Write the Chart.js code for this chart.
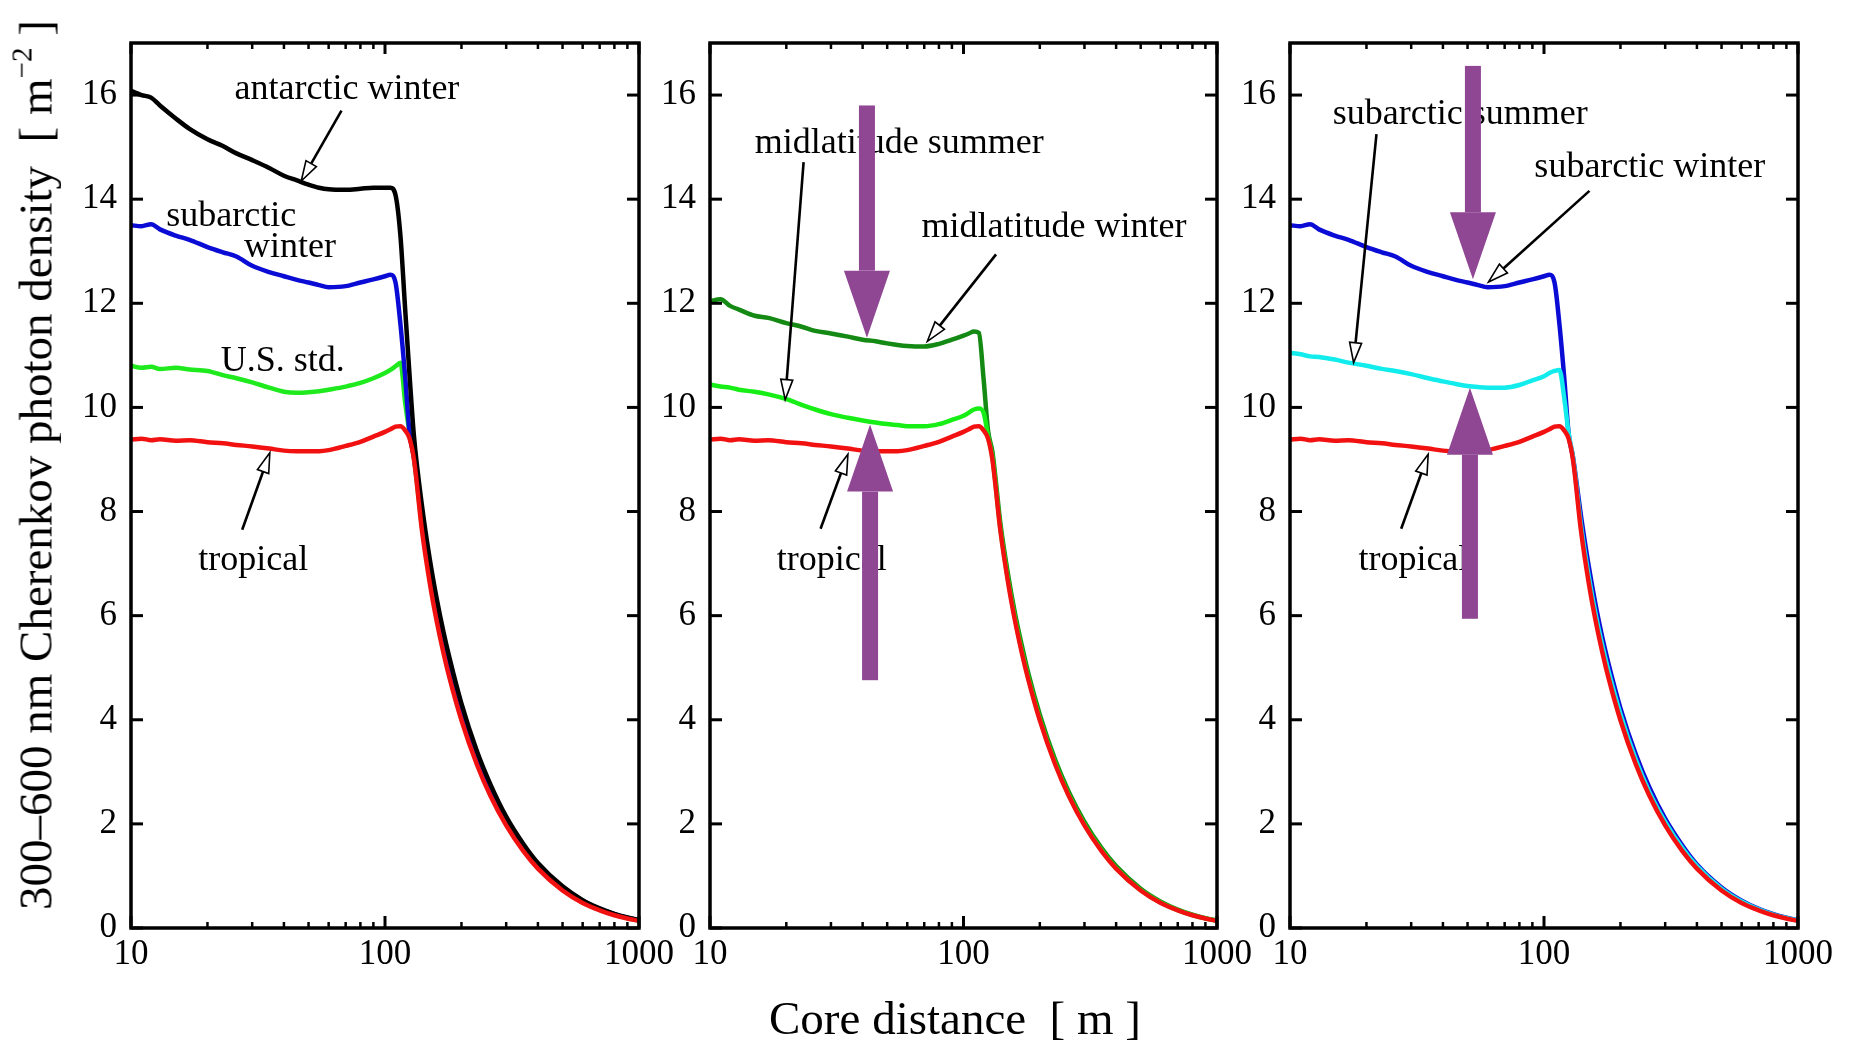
<!DOCTYPE html>
<html>
<head>
<meta charset="utf-8">
<title>Cherenkov photon density vs core distance</title>
<script src="https://cdn.jsdelivr.net/npm/chart.js"></script>
<style>
  html, body { margin: 0; padding: 0; background: #fff; }
  #page { position: relative; width: 1854px; height: 1045px; overflow: hidden; background: #fff;
          font-family: "Liberation Serif", "Times New Roman", serif; color: #000; }
  #page canvas { position: absolute; top: 0; }
  .ytitle { position: absolute; left: 36px; top: 465px; transform: translate(-50%, -50%) rotate(-90deg);
            font-size: 47px; white-space: pre; line-height: 1; }
  .xtitle { position: absolute; left: 955px; top: 1018px; transform: translate(-50%, -50%);
            font-size: 47px; white-space: pre; line-height: 1; }
  sup { font-size: 0.62em; vertical-align: 0.7em; line-height: 0; }
</style>
</head>
<body>
<div id="page">
  <canvas id="p1"></canvas>
  <canvas id="p2"></canvas>
  <canvas id="p3"></canvas>
  <div class="ytitle">300–600 nm Cherenkov photon density  [ m<sup>−2</sup> ]</div>
  <div class="xtitle">Core distance  [ m ]</div>
</div>
<script>
// core distance in m (shared x for every curve)
const coreDistance = [10, 11, 12, 13, 15, 17, 20, 23, 26, 30,
  35, 40, 45, 50, 55, 60, 70, 80, 90, 100,
  105, 110, 115, 120, 125, 130, 140, 150, 160, 170,
  180, 200, 230, 260, 300, 350, 400, 500, 600, 700,
  800, 900, 1000];

// photon density in m^-2
const tropical = [9.38, 9.40, 9.37, 9.39, 9.36, 9.37, 9.33, 9.31, 9.28, 9.25,
  9.21, 9.17, 9.16, 9.16, 9.16, 9.18, 9.26, 9.34, 9.44, 9.53,
  9.58, 9.63, 9.64, 9.56, 9.40, 9.00, 7.61, 6.63, 5.88, 5.28,
  4.78, 3.99, 3.14, 2.54, 1.97, 1.48, 1.14, 0.72, 0.48, 0.34,
  0.245, 0.182, 0.137];
const antarcticWinter = [16.08, 16.00, 15.95, 15.80, 15.55, 15.35, 15.15, 15.02, 14.88, 14.75,
  14.60, 14.45, 14.36, 14.28, 14.22, 14.19, 14.18, 14.20, 14.22, 14.22,
  14.22, 14.08, 13.30, 11.90, 10.60, 9.45, 8.09, 7.09, 6.31, 5.68,
  5.16, 4.31, 3.40, 2.76, 2.14, 1.62, 1.25, 0.80, 0.536, 0.376,
  0.271, 0.201, 0.151];
const subarcticWinter = [13.50, 13.48, 13.52, 13.42, 13.30, 13.22, 13.08, 12.98, 12.90, 12.72,
  12.60, 12.52, 12.45, 12.40, 12.35, 12.31, 12.33, 12.40, 12.46, 12.52,
  12.55, 12.40, 11.60, 10.60, 9.50, 9.05, 7.90, 6.95, 6.18, 5.56,
  5.05, 4.22, 3.33, 2.70, 2.10, 1.59, 1.22, 0.78, 0.525, 0.368,
  0.266, 0.198, 0.150];
const usStandard = [10.80, 10.76, 10.78, 10.74, 10.76, 10.73, 10.70, 10.62, 10.56, 10.48,
  10.38, 10.30, 10.28, 10.29, 10.31, 10.34, 10.40, 10.47, 10.56, 10.66,
  10.72, 10.79, 10.86, 10.10, 9.50, 9.02, 7.70, 6.75, 6.00, 5.40,
  4.90, 4.10, 3.22, 2.60, 2.03, 1.53, 1.18, 0.75, 0.505, 0.355,
  0.257, 0.190, 0.143];
const midlatitudeWinter = [12.04, 12.08, 11.95, 11.88, 11.76, 11.72, 11.62, 11.55, 11.47, 11.42,
  11.36, 11.30, 11.27, 11.23, 11.20, 11.18, 11.17, 11.22, 11.30, 11.38,
  11.42, 11.46, 11.43, 10.55, 9.55, 9.15, 7.75, 6.78, 6.02, 5.42,
  4.90, 4.10, 3.23, 2.62, 2.04, 1.54, 1.19, 0.755, 0.507, 0.355,
  0.257, 0.190, 0.143];
const midlatitudeSummer = [10.44, 10.40, 10.38, 10.34, 10.30, 10.25, 10.16, 10.05, 9.96, 9.87,
  9.80, 9.75, 9.71, 9.68, 9.66, 9.64, 9.64, 9.68, 9.76, 9.84,
  9.90, 9.96, 9.98, 9.90, 9.45, 9.05, 7.65, 6.68, 5.93, 5.32,
  4.82, 4.02, 3.17, 2.56, 1.99, 1.50, 1.15, 0.73, 0.49, 0.343,
  0.248, 0.184, 0.139];
const subarcticSummer = [11.05, 11.02, 10.98, 10.97, 10.92, 10.86, 10.80, 10.74, 10.70, 10.64,
  10.56, 10.50, 10.45, 10.41, 10.39, 10.38, 10.38, 10.43, 10.52, 10.60,
  10.66, 10.70, 10.72, 10.20, 9.50, 9.05, 7.72, 6.76, 6.01, 5.41,
  4.91, 4.11, 3.23, 2.61, 2.04, 1.54, 1.19, 0.755, 0.508, 0.357,
  0.258, 0.191, 0.144];

// tick labels
const xTicks = [10, 100, 1000];
const xMinorTicks = [20, 30, 40, 50, 60, 70, 80, 90, 200, 300, 400, 500, 600, 700, 800, 900];
const yTicks = [0, 2, 4, 6, 8, 10, 12, 14, 16];

const colors = {
  tropical: '#f21111',
  antarctic: '#000000',
  subarcticW: '#0b0bd6',
  usStd: '#1eea1e',
  midW: '#148a14',
  midS: '#16ee16',
  subarcticS: '#12ecec',
  purple: '#8f4693'
};
const FONT = '"Liberation Serif", "Times New Roman", serif';
Chart.defaults.font.family = FONT;
Chart.defaults.color = '#000';

// annotations in data coordinates (x in m, y in m^-2)
const panels = [
  {
    id: 'p1', left: 131, right: 639,
    series: [[tropical, colors.tropical], [antarcticWinter, colors.antarctic],
             [subarcticWinter, colors.subarcticW], [usStandard, colors.usStd]],
    texts: [['antarctic winter', 70.8, 15.92], ['subarctic', 24.8, 13.49], ['winter', 42.3, 12.88],
            ['U.S. std.', 39.6, 10.70], ['tropical', 30.3, 6.88]],
    pointers: [[67.4, 15.70, 46.8, 14.35], [27.4, 7.65, 35.2, 9.13]],
    bigArrows: []
  },
  {
    id: 'p2', left: 710, right: 1217,
    series: [[tropical, colors.tropical], [midlatitudeSummer, colors.midS],
             [midlatitudeWinter, colors.midW]],
    texts: [['midlatitude summer', 55.8, 14.88], ['midlatitude winter', 227.5, 13.28],
            ['tropical', 30.2, 6.88]],
    pointers: [[23.4, 14.71, 19.8, 10.15], [134.4, 12.94, 72, 11.27], [27.3, 7.67, 35.0, 9.10]],
    bigArrows: [[41.6, 15.8, 11.34], [42.8, 4.76, 9.67]]
  },
  {
    id: 'p3', left: 1290, right: 1798,
    series: [[tropical, colors.tropical], [subarcticSummer, colors.subarcticS],
             [subarcticWinter, colors.subarcticW]],
    texts: [['subarctic summer', 46.8, 15.44], ['subarctic winter', 261, 14.42],
            ['tropical', 30.6, 6.87]],
    pointers: [[21.9, 15.25, 17.8, 10.86], [151, 14.16, 60.5, 12.41], [27.4, 7.67, 35.0, 9.10]],
    bigArrows: [[52.5, 16.56, 12.46], [51.1, 5.94, 10.38]]
  }
];

const PLOT_TOP = 43, PLOT_BOTTOM = 928, Y_AXIS_W = 80, RIGHT_PAD = 45, CANVAS_H = 1000;

function line(ctx, x1, y1, x2, y2) {
  ctx.beginPath(); ctx.moveTo(x1, y1); ctx.lineTo(x2, y2); ctx.stroke();
}

function makePlugin(panel) {
  return {
    id: 'frameAndNotes',
    afterDatasetsDraw(chart) {
      const { ctx, chartArea: a, scales: { x, y } } = chart;
      ctx.save();
      ctx.strokeStyle = '#000';
      ctx.lineCap = 'butt';

      // inward ticks
      ctx.lineWidth = 3;
      yTicks.forEach(v => {
        const py = y.getPixelForValue(v);
        line(ctx, a.left, py, a.left + 12, py);
        line(ctx, a.right - 12, py, a.right, py);
      });
      xTicks.forEach(v => {
        const px = x.getPixelForValue(v);
        line(ctx, px, a.bottom, px, a.bottom - 12);
        line(ctx, px, a.top, px, a.top + 11);
      });
      ctx.lineWidth = 2.5;
      xMinorTicks.forEach(v => {
        const px = x.getPixelForValue(v);
        line(ctx, px, a.bottom, px, a.bottom - 6);
        line(ctx, px, a.top, px, a.top + 6);
      });
      ctx.lineWidth = 3.5;
      ctx.strokeRect(a.left, a.top, a.right - a.left, a.bottom - a.top);

      // labels
      ctx.fillStyle = '#000';
      ctx.font = '36px ' + FONT;
      ctx.textAlign = 'center';
      ctx.textBaseline = 'alphabetic';
      panel.texts.forEach(([t, tx, ty]) => ctx.fillText(t, x.getPixelForValue(tx), y.getPixelForValue(ty)));

      // pointer arrows with open heads
      panel.pointers.forEach(([x1, y1, x2, y2]) => {
        const sx = x.getPixelForValue(x1), sy = y.getPixelForValue(y1);
        const ex = x.getPixelForValue(x2), ey = y.getPixelForValue(y2);
        const ang = Math.atan2(ey - sy, ex - sx);
        const L = 20, W = 6;
        const bx = ex - L * Math.cos(ang), by = ey - L * Math.sin(ang);
        ctx.lineWidth = 2.6;
        line(ctx, sx, sy, bx, by);
        ctx.beginPath();
        ctx.moveTo(ex, ey);
        ctx.lineTo(bx + W * Math.sin(ang), by - W * Math.cos(ang));
        ctx.lineTo(bx - W * Math.sin(ang), by + W * Math.cos(ang));
        ctx.closePath();
        ctx.fillStyle = '#fff';
        ctx.fill();
        ctx.lineWidth = 1.6;
        ctx.stroke();
      });

      // thick purple arrows
      ctx.fillStyle = colors.purple;
      panel.bigArrows.forEach(([ax, tail, tip]) => {
        const px = x.getPixelForValue(ax);
        const t0 = y.getPixelForValue(tail), t1 = y.getPixelForValue(tip);
        const dir = Math.sign(t1 - t0);
        const base = t1 - dir * 67;
        ctx.fillRect(px - 8, Math.min(t0, base), 16, Math.abs(base - t0));
        ctx.beginPath();
        ctx.moveTo(px - 23, base);
        ctx.lineTo(px + 23, base);
        ctx.lineTo(px, t1);
        ctx.closePath();
        ctx.fill();
      });
      ctx.restore();
    }
  };
}

panels.forEach(panel => {
  const canvas = document.getElementById(panel.id);
  const w = (panel.right - panel.left) + Y_AXIS_W + RIGHT_PAD;
  canvas.width = w;
  canvas.height = CANVAS_H;
  canvas.style.left = (panel.left - Y_AXIS_W) + 'px';
  canvas.style.width = w + 'px';
  canvas.style.height = CANVAS_H + 'px';

  const tickFont = { family: FONT, size: 35 };
  new Chart(canvas, {
    type: 'line',
    data: {
      datasets: panel.series.map(([vals, color]) => ({
        data: coreDistance.map((d, i) => ({ x: d, y: vals[i] })),
        borderColor: color,
        borderWidth: 4.5,
        pointRadius: 0,
        fill: false,
        cubicInterpolationMode: 'monotone',
        borderJoinStyle: 'round',
        borderCapStyle: 'round'
      }))
    },
    options: {
      responsive: false,
      animation: false,
      devicePixelRatio: 1,
      layout: { padding: { left: 0, right: RIGHT_PAD, top: PLOT_TOP, bottom: 0 } },
      plugins: { legend: { display: false }, tooltip: { enabled: false } },
      scales: {
        x: {
          type: 'logarithmic', min: 10, max: 1000,
          grid: { display: false, drawTicks: false },
          border: { display: false },
          afterBuildTicks: s => { s.ticks = xTicks.map(v => ({ value: v })); },
          afterFit: s => { s.height = CANVAS_H - PLOT_BOTTOM; },
          ticks: { padding: 6, color: '#000', font: tickFont, autoSkip: false, maxRotation: 0,
                   callback: v => String(v) }
        },
        y: {
          min: 0, max: 17,
          grid: { display: false, drawTicks: false },
          border: { display: false },
          afterBuildTicks: s => { s.ticks = yTicks.map(v => ({ value: v })); },
          afterFit: s => { s.width = Y_AXIS_W; },
          ticks: { padding: 14, color: '#000', font: tickFont, callback: v => String(v) }
        }
      }
    },
    plugins: [makePlugin(panel)]
  });
});
</script>
</body>
</html>
